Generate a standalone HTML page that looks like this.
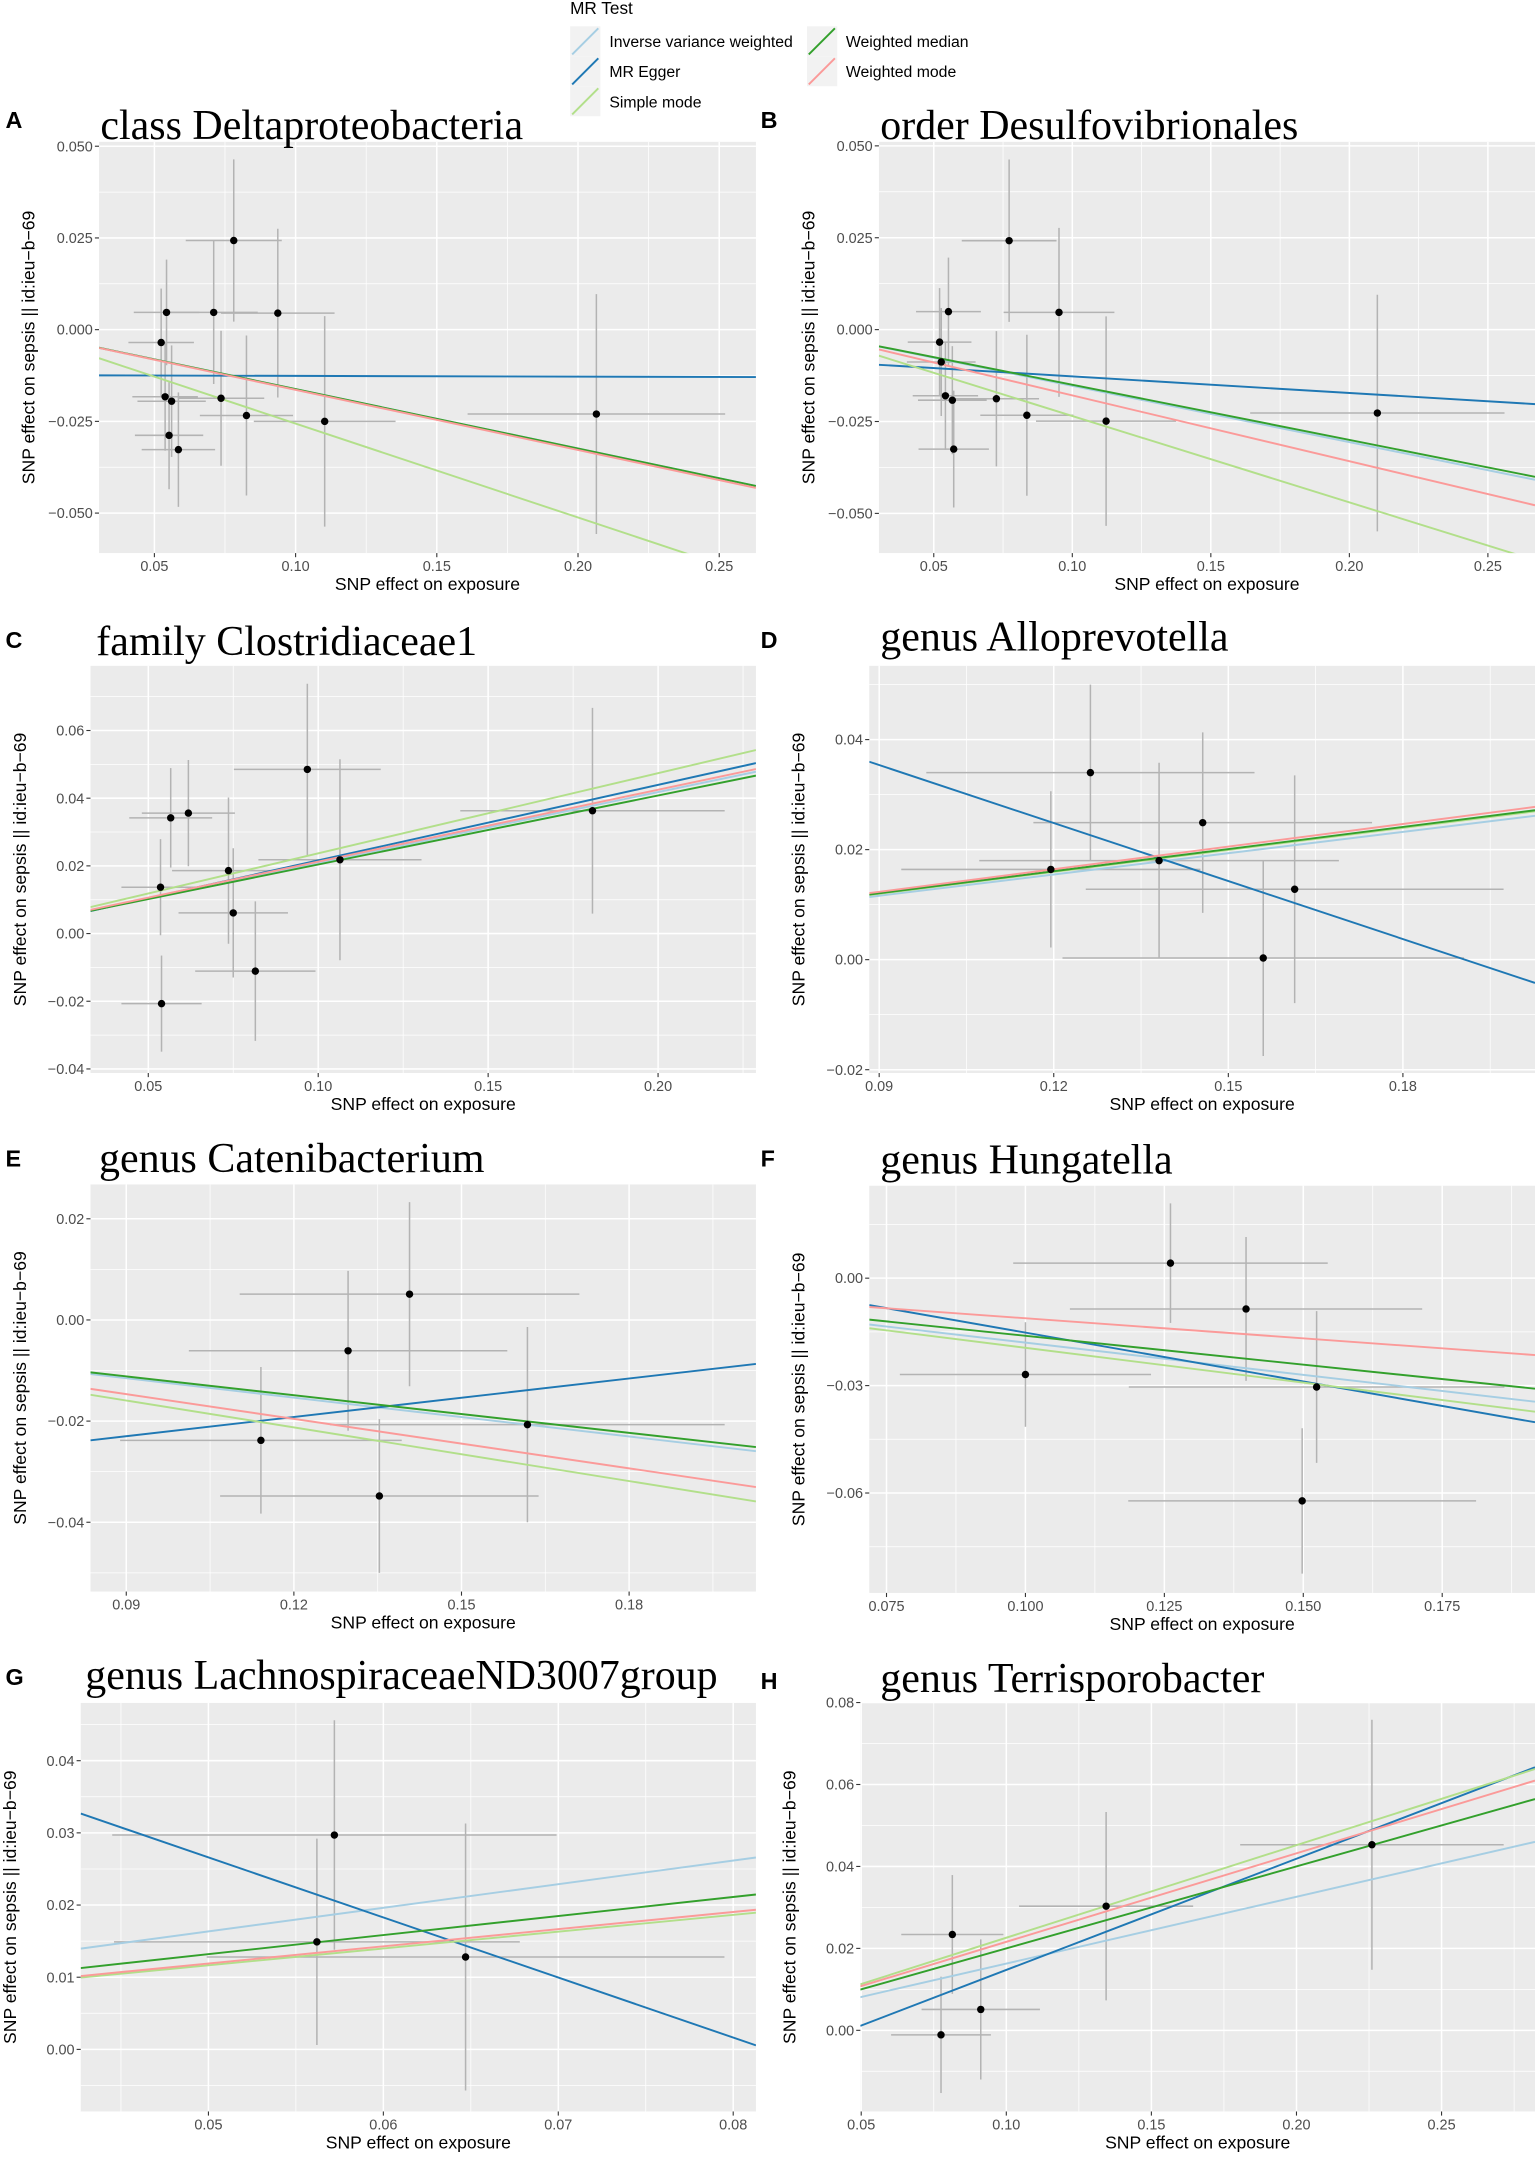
<!DOCTYPE html>
<html><head><meta charset="utf-8"><style>
html,body{margin:0;padding:0;background:#fff;}
svg{display:block;}
</style></head><body>
<svg id="fig" width="1535" height="2157" viewBox="0 0 1116 1568" xmlns="http://www.w3.org/2000/svg" font-family="Liberation Sans, Arial, sans-serif">
<g>
 <text x="414.5" y="10" font-size="12.5" fill="#000">MR Test</text>
 <g><rect x="414.5" y="19" width="22" height="21.8" fill="#f2f2f2"/><line x1="416" y1="39.5" x2="435" y2="20.5" stroke="#a6cee3" stroke-width="1.4"/><text x="443" y="34" font-size="11.5">Inverse variance weighted</text></g>
 <g><rect x="414.5" y="40.8" width="22" height="21.8" fill="#f2f2f2"/><line x1="416" y1="61.3" x2="435" y2="42.3" stroke="#1f78b4" stroke-width="1.4"/><text x="443" y="56" font-size="11.5">MR Egger</text></g>
 <g><rect x="414.5" y="62.6" width="22" height="21.8" fill="#f2f2f2"/><line x1="416" y1="83.1" x2="435" y2="64.1" stroke="#b2df8a" stroke-width="1.4"/><text x="443" y="78" font-size="11.5">Simple mode</text></g>
 <g><rect x="586.7" y="19" width="22" height="21.8" fill="#f2f2f2"/><line x1="588" y1="39.5" x2="607" y2="20.5" stroke="#33a02c" stroke-width="1.4"/><text x="615" y="34" font-size="11.5">Weighted median</text></g>
 <g><rect x="586.7" y="40.8" width="22" height="21.8" fill="#f2f2f2"/><line x1="588" y1="61.3" x2="607" y2="42.3" stroke="#fb9a99" stroke-width="1.4"/><text x="615" y="56" font-size="11.5">Weighted mode</text></g>
</g>
</svg>
<script>
// ---------- DATA ----------
const methods = ["Inverse variance weighted","MR Egger","Simple mode","Weighted median","Weighted mode"];
// Panel A
const aX=[.0524,.0543,.0710,.0781,.0937,.0538,.0561,.0552,.0585,.0736,.0826,.1103,.2065];
const aY=[-.0035,.0047,.0047,.0243,.0045,-.0183,-.0195,-.0288,-.0327,-.0187,-.0234,-.0250,-.0230];
const aXse=[.0116,.0116,.0156,.0170,.0201,.0116,.0121,.0121,.0130,.0153,.0165,.0251,.0456];
const aYse=[.0147,.0144,.0195,.0221,.0230,.0147,.0152,.0147,.0156,.0184,.0218,.0287,.0327];
const aSlope=[-.162,-.002,-.256,-.162,-.164];
const aInt=[0,-.0124,0,0,0];
// Panel B
const bX=[.0521,.0553,.0527,.0772,.0952,.0542,.0567,.0572,.0726,.0836,.1122,.2101];
const bY=[-.0034,.0049,-.0088,.0242,.0047,-.0180,-.0192,-.0325,-.0188,-.0233,-.0249,-.0227];
const bXse=[.0115,.0117,.0124,.0171,.0200,.0118,.0124,.0127,.0154,.0168,.0253,.0459];
const bYse=[.0147,.0147,.0147,.0221,.0230,.0147,.0147,.0159,.0184,.0219,.0285,.0322];
const bSlope=[-.153,-.0452,-.235,-.150,-.179];
const bInt=[0,-.0082,0,0,0];
// Panel C
const cX=[.0536,.0566,.0618,.0968,.0736,.0750,.0815,.0539,.1064,.1807];
const cY=[.0137,.0342,.0356,.0485,.0186,.0061,-.0111,-.0207,.0218,.0363];
const cXse=[.0115,.0122,.0137,.0216,.0166,.0161,.0177,.0118,.0240,.0389];
const cYse=[.0142,.0147,.0157,.0253,.0216,.0191,.0206,.0142,.0297,.0304];
const cSlope=[.209,.2232,.237,.204,.2125];
const cInt=[0,-.0007,0,0,0];
// Panel D
const dX=[.1195,.1263,.1381,.1456,.1614,.1560];
const dY=[.0164,.0340,.0180,.0249,.0128,.0003];
const dXse=[.0257,.0282,.0309,.0291,.0359,.0345];
const dYse=[.0142,.0160,.0178,.0164,.0207,.0178];
const dSlope=[.129,-.3514,.133,.134,.137];
const dInt=[0,.0670,0,0,0];
// Panel E
const eX=[.1141,.1297,.1407,.1353,.1618];
const eY=[-.0238,-.0061,.0051,-.0348,-.0207];
const eXse=[.0252,.0285,.0304,.0285,.0353];
const eYse=[.0145,.0158,.0182,.0152,.0193];
const eSlope=[-.128,.1268,-.177,-.124,-.163];
const eInt=[0,-.0344,0,0,0];
// Panel F
const fX=[.1000,.1261,.1397,.1524,.1498];
const fY=[-.0269,.0042,-.0086,-.0304,-.0622];
const fXse=[.0226,.0283,.0317,.0338,.0313];
const fYse=[.0146,.0167,.0201,.0212,.0203];
const fSlope=[-.18,-.273,-.1945,-.161,-.112];
const fInt=[0,.0121,0,0,0];
// Panel G
const gX=[.0572,.0562,.0647];
const gY=[.0297,.0149,.0128];
const gXse=[.0127,.0116,.0148];
const gYse=[.0159,.0143,.0185];
const gSlope=[.327,-.832,.233,.264,.238];
const gInt=[0,.0682,0,0,0];
// Panel H
const hX=[.0775,.0814,.0912,.1344,.2260];
const hY=[-.0011,.0234,.0051,.0303,.0453];
const hXse=[.0172,.0176,.0204,.0300,.0454];
const hYse=[.0142,.0145,.0171,.0230,.0305];
const hSlope=[.163,.2714,.226,.2,.216];
const hInt=[0,-.0124,0,0,0];
// Tick labels
const abXTicks=["0.05","0.10","0.15","0.20","0.25"];
const abYTicks=["-0.050","-0.025","0.000","0.025","0.050"];
const cXTicks=["0.05","0.10","0.15","0.20"];
const cYTicks=["-0.04","-0.02","0.00","0.02","0.04","0.06"];
const deXTicks=["0.09","0.12","0.15","0.18"];
const dYTicks=["-0.02","0.00","0.02","0.04"];
const eYTicks=["-0.04","-0.02","0.00","0.02"];
const fXTicks=["0.075","0.100","0.125","0.150","0.175"];
const fYTicks=["-0.06","-0.03","0.00"];
const gXTicks=["0.05","0.06","0.07","0.08"];
const gYTicks=["0.00","0.01","0.02","0.03","0.04"];
const hXTicks=["0.05","0.10","0.15","0.20","0.25"];
const hYTicks=["0.00","0.02","0.04","0.06","0.08"];
const titles=["class Deltaproteobacteria","order Desulfovibrionales","family Clostridiaceae1","genus Alloprevotella","genus Catenibacterium","genus Hungatella","genus LachnospiraceaeND3007group","genus Terrisporobacter"];

// ---------- LAYOUT ----------
const colors=["#a6cee3","#1f78b4","#b2df8a","#33a02c","#fb9a99"];
const panels=[
 {id:"a",L:"A",x:aX,y:aY,xs:aXse,ys:aYse,sl:aSlope,it:aInt,xt:abXTicks,yt:abYTicks,box:[72,103,549.6,402],dom:[.0304,.263,-.0609,.0512],tx:73,ty:101,lx:4,ly:93},
 {id:"b",L:"B",x:bX,y:bY,xs:bXse,ys:bYse,sl:bSlope,it:bInt,xt:abXTicks,yt:abYTicks,box:[639,103,1116,402],dom:[.0302,.267,-.0608,.0511],tx:640,ty:101,lx:553,ly:93},
 {id:"c",L:"C",x:cX,y:cY,xs:cXse,ys:cYse,sl:cSlope,it:cInt,xt:cXTicks,yt:cYTicks,box:[65.8,484,549.6,780],dom:[.033,.2288,-.0412,.0791],tx:70,ty:476,lx:4,ly:471},
 {id:"d",L:"D",x:dX,y:dY,xs:dXse,ys:dYse,sl:dSlope,it:dInt,xt:deXTicks,yt:dYTicks,box:[632,484,1116,780],dom:[.0883,.2027,-.0206,.0534],tx:640,ty:473,lx:553,ly:471},
 {id:"e",L:"E",x:eX,y:eY,xs:eXse,ys:eYse,sl:eSlope,it:eInt,xt:deXTicks,yt:eYTicks,box:[65.8,861,549.6,1157],dom:[.0836,.2027,-.0537,.0268],tx:72,ty:852,lx:4,ly:848},
 {id:"f",L:"F",x:fX,y:fY,xs:fXse,ys:fYse,sl:fSlope,it:fInt,xt:fXTicks,yt:fYTicks,box:[632,862,1116,1158],dom:[.0719,.1917,-.0879,.0258],tx:640,ty:853,lx:553,ly:848},
 {id:"g",L:"G",x:gX,y:gY,xs:gXse,ys:gYse,sl:gSlope,it:gInt,xt:gXTicks,yt:gYTicks,box:[58.7,1238,549.6,1535],dom:[.0427,.0813,-.0086,.048],tx:62,ty:1228,lx:4,ly:1225},
 {id:"h",L:"H",x:hX,y:hY,xs:hXse,ys:hYse,sl:hSlope,it:hInt,xt:hXTicks,yt:hYTicks,box:[625.5,1238,1116,1535],dom:[.0497,.2822,-.0198,.0799],tx:640,ty:1230,lx:553,ly:1228}
];
const NS="http://www.w3.org/2000/svg";
const svg=document.getElementById("fig");
function mk(tag,attrs,parent){const e=document.createElementNS(NS,tag);for(const k in attrs)e.setAttribute(k,attrs[k]);parent.appendChild(e);return e;}
const defs=mk("defs",{},svg);

panels.forEach((p,pi)=>{
 const [x0,y0,x1,y1]=p.box,[dx0,dx1,dy0,dy1]=p.dom;
 const sx=v=>x0+(v-dx0)/(dx1-dx0)*(x1-x0);
 const sy=v=>y1-(v-dy0)/(dy1-dy0)*(y1-y0);
 const g=mk("g",{},svg);
 
 
 const cp=mk("clipPath",{id:"clip-"+p.id},defs);
 mk("rect",{x:x0,y:y0,width:x1-x0,height:y1-y0},cp);
 const bg=mk("rect",{x:x0,y:y0,width:x1-x0,height:y1-y0,fill:"#ebebeb"},g);
 
 
 const xv=p.xt.map(parseFloat), yv=p.yt.map(parseFloat);
 const xs=xv[1]-xv[0], ys=yv[1]-yv[0];
 for(let v=xv[0]-xs/2; v<=dx1; v+=xs){ if(v>=dx0){ const l=mk("line",{x1:sx(v),x2:sx(v),y1:y0,y2:y1,stroke:"#fff","stroke-width":0.55},g);  }}
 for(let v=yv[0]-ys/2; v<=dy1; v+=ys){ if(v>=dy0){ const l=mk("line",{x1:x0,x2:x1,y1:sy(v),y2:sy(v),stroke:"#fff","stroke-width":0.55},g);  }}
 p.xt.forEach((t,i)=>{const X=sx(xv[i]);
  const l=mk("line",{x1:X,x2:X,y1:y0,y2:y1,stroke:"#fff","stroke-width":1.1},g);
   
  mk("line",{x1:X,x2:X,y1:y1,y2:y1+3,stroke:"#333","stroke-width":0.8},g);
  const tx=mk("text",{x:X,y:y1+13,"text-anchor":"middle","font-size":"10.5",fill:"#4d4d4d"},g); tx.textContent=t;
   
 });
 p.yt.forEach((t,i)=>{const Y=sy(yv[i]);
  const l=mk("line",{x1:x0,x2:x1,y1:Y,y2:Y,stroke:"#fff","stroke-width":1.1},g);
   
  mk("line",{x1:x0-3,x2:x0,y1:Y,y2:Y,stroke:"#333","stroke-width":0.8},g);
  const tx=mk("text",{x:x0-4.5,y:Y+3.7,"text-anchor":"end","font-size":"10.5",fill:"#4d4d4d"},g); tx.textContent=t.replace("-","\u2212");
   
 });
 const cg=mk("g",{"clip-path":"url(#clip-"+p.id+")"},g);
 p.x.forEach((xv_,i)=>{
  const eh=mk("line",{x1:sx(xv_-p.xs[i]),x2:sx(xv_+p.xs[i]),y1:sy(p.y[i]),y2:sy(p.y[i]),stroke:"#b3b3b3","stroke-width":1.1},cg);
   
  const ev=mk("line",{x1:sx(xv_),x2:sx(xv_),y1:sy(p.y[i]-p.ys[i]),y2:sy(p.y[i]+p.ys[i]),stroke:"#b3b3b3","stroke-width":1.1},cg);
   
 });
 p.sl.forEach((s,m)=>{
  const l=mk("line",{x1:sx(dx0),y1:sy(p.it[m]+s*dx0),x2:sx(dx1),y2:sy(p.it[m]+s*dx1),stroke:colors[m],"stroke-width":1.4},cg);
  
  
 });
 p.x.forEach((xv_,i)=>{
  const c=mk("circle",{cx:sx(xv_),cy:sy(p.y[i]),r:2.7,fill:"#000"},cg);
  
  
 });
 const tt=mk("text",{x:p.tx,y:p.ty,"font-family":"Liberation Serif, Times New Roman, serif","font-size":"30.5",fill:"#000"},g);
 tt.textContent=titles[pi];
  
 const lt=mk("text",{x:p.lx,y:p.ly,"font-size":"17","font-weight":"bold",fill:"#000"},g);
 lt.textContent=p.L;
  
 const xa=mk("text",{x:(x0+x1)/2,y:y1+27,"text-anchor":"middle","font-size":"12.8",fill:"#000"},g);
 xa.textContent="SNP effect on exposure";
  
 const yx=x0-47, yc=(y0+y1)/2;
 const ya=mk("text",{x:yx,y:yc,"text-anchor":"middle","font-size":"12.8",fill:"#000",transform:"rotate(-90 "+yx+" "+yc+")"},g);
 ya.textContent="SNP effect on sepsis || id:ieu\u2212b\u221269";
  
});
</script>
</body></html>
